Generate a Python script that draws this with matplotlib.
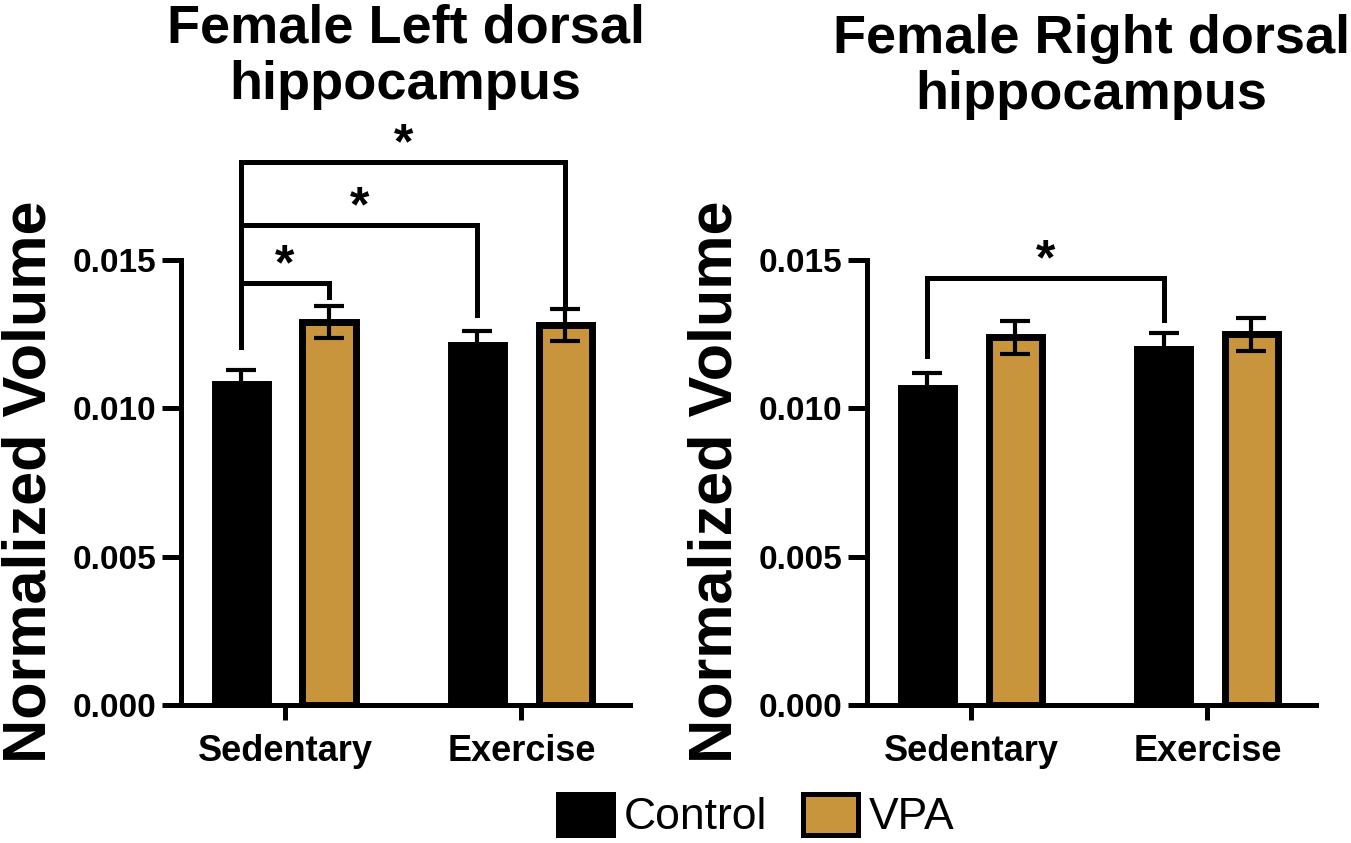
import matplotlib
matplotlib.use("Agg")
import matplotlib.pyplot as plt
from matplotlib.patches import Patch

plt.rcParams['font.family'] = ['Liberation Sans', 'DejaVu Sans']

groups = ['Sedentary', 'Exercise']
yticks = [0.000, 0.005, 0.010, 0.015]

# left dorsal hippocampus
left_control = [0.01082, 0.01214]
left_control_sem = [0.00047, 0.00047]
left_vpa = [0.01291, 0.01281]
left_vpa_sem = [0.00054, 0.00054]

# right dorsal hippocampus
right_control = [0.01069, 0.01200]
right_control_sem = [0.00051, 0.00054]
right_vpa = [0.01239, 0.01249]
right_vpa_sem = [0.00056, 0.00056]

# brackets: (bar a, bar b, line height, leg end a, leg end b)
# bars numbered 0=sed ctrl, 1=sed vpa, 2=ex ctrl, 3=ex vpa
left_brackets = [(0, 1, 0.01423, 0.01207, 0.01376),
                 (0, 2, 0.01618, 0.01207, 0.01315),
                 (0, 3, 0.01831, 0.01207, 0.01352)]
right_brackets = [(0, 2, 0.01440, 0.01177, 0.01298)]

gold = '#c8953c'
off = 0.186
bw = 0.2246
lw_edge = 5.0

fig = plt.figure(figsize=(13.51, 8.43), dpi=100)
ax_l = fig.add_axes([0.1340, 0.1637, 0.3323, 0.5279])
ax_r = fig.add_axes([0.6418, 0.1637, 0.3323, 0.5279])


def draw_panel(ax, ctrl, ctrl_sem, vpa, vpa_sem, brackets, title, title_y):
    x = range(len(groups))
    xc = [i - off for i in x]
    xv = [i + off for i in x]
    ax.bar(xc, ctrl, width=bw, color='black', edgecolor='black', linewidth=lw_edge, zorder=2)
    ax.bar(xv, vpa, width=bw, color=gold, edgecolor='black', linewidth=lw_edge, zorder=2)
    ax.errorbar(xc, ctrl, yerr=ctrl_sem, fmt='none', ecolor='black', elinewidth=3,
                capsize=11, capthick=3, zorder=3)
    ax.errorbar(xv, vpa, yerr=vpa_sem, fmt='none', ecolor='black', elinewidth=3,
                capsize=11, capthick=3, zorder=3)

    bar_x = [xc[0], xv[0], xc[1], xv[1]]
    for a, b, h, ea, eb in brackets:
        ax.plot([bar_x[a], bar_x[a], bar_x[b], bar_x[b]], [ea, h, h, eb],
                color='black', lw=3.6, clip_on=False, solid_joinstyle='miter', zorder=4)
        ax.text((bar_x[a] + bar_x[b]) / 2, h + 0.00055, '*', ha='center', va='center',
                fontsize=36, fontweight='bold', clip_on=False)

    ax.set_xlim(-0.44, 1.459)
    ax.set_ylim(0, 0.015)
    ax.set_xticks(list(x))
    ax.set_xticklabels(groups)
    ax.set_yticks(yticks)
    ax.set_yticklabels(['%.3f' % v for v in yticks])
    for s in ['top', 'right']:
        ax.spines[s].set_visible(False)
    for s in ['left', 'bottom']:
        ax.spines[s].set_linewidth(3.6)
    ax.tick_params(axis='y', length=14, width=3.6, pad=4, labelsize=24)
    ax.tick_params(axis='x', length=11, width=3.6, pad=10, labelsize=26)
    for lab in ax.get_xticklabels() + ax.get_yticklabels():
        lab.set_fontweight('bold')
    ax.set_ylabel('Normalized Volume', fontsize=44, fontweight='bold')
    ax.yaxis.set_label_coords(-0.274, 0.501)
    ax.text(0.5, title_y, title, transform=ax.transAxes, ha='center', va='center',
            fontsize=39, fontweight='bold', linespacing=1.17)


draw_panel(ax_l, left_control, left_control_sem, left_vpa, left_vpa_sem,
           left_brackets, 'Female Left dorsal\nhippocampus', 1.456)
draw_panel(ax_r, right_control, right_control_sem, right_vpa, right_vpa_sem,
           right_brackets, 'Female Right dorsal\nhippocampus', 1.434)

handles = [Patch(facecolor='black', edgecolor='black', linewidth=3.6),
           Patch(facecolor=gold, edgecolor='black', linewidth=3.6)]
fig.legend(handles, ['Control', 'VPA'], loc='center', bbox_to_anchor=(756 / 1351, 0.032),
           ncol=2, frameon=False, fontsize=32, handlelength=1.24, handleheight=1.06,
           handletextpad=0.25, columnspacing=0.8, borderpad=0, borderaxespad=0)

fig.savefig('out.png', dpi=100)
